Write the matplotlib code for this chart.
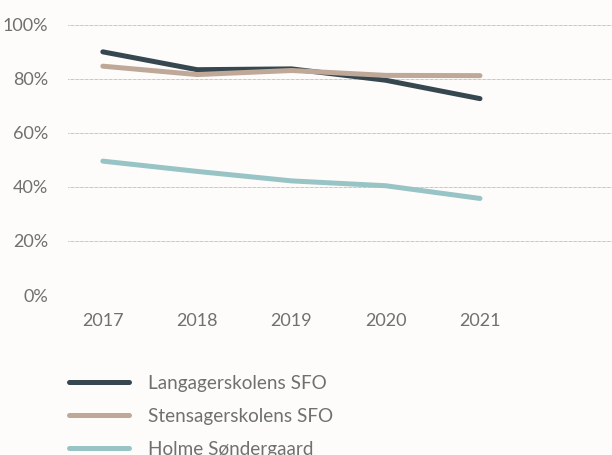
import matplotlib.pyplot as plt
from matplotlib.ticker import FuncFormatter

plt.rcParams["font.family"] = "Lato"

years = [2017, 2018, 2019, 2020, 2021]
langager = [89.9, 83.3, 83.6, 79.4, 72.6]
stensager = [84.6, 81.5, 83.0, 81.2, 81.1]
holme = [49.5, 45.7, 42.2, 40.4, 35.7]

names = ["Langagerskolens SFO", "Stensagerskolens SFO", "Holme Søndergaard"]
colors = ["#36474f", "#bfa898", "#98c4c5"]

bg = "#fdfcfa"
txt = "#707070"

fig = plt.figure(figsize=(6.12, 4.55), dpi=100, facecolor=bg)
ax = fig.add_axes([0.111, 0.3516, 0.889, 0.5945], facecolor=bg)

for vals, name, c in zip([langager, stensager, holme], names, colors):
    ax.plot(years, vals, color=c, lw=3.6, solid_capstyle="round", label=name)

ax.set_xlim(2016.63, 2022.4)
ax.set_ylim(0, 100)
ax.set_yticks([0, 20, 40, 60, 80, 100])
ax.set_xticks(years)
ax.yaxis.set_major_formatter(FuncFormatter(lambda v, p: f"{v:.0f}%"))
ax.grid(axis="y", color="#909090", linestyle=(0, (0.5, 0.8)), lw=0.7)
ax.set_axisbelow(True)
for s in ax.spines.values():
    s.set_visible(False)
ax.tick_params(length=0, colors=txt, labelsize=13)
ax.tick_params(axis="y", pad=14)
ax.tick_params(axis="x", pad=13)

fig.legend(loc="upper left", bbox_to_anchor=(0.1, 0.193), frameon=False,
           fontsize=13.6, handlelength=3.2, handletextpad=1.0,
           labelspacing=0.85, labelcolor=txt, borderaxespad=0)

fig.savefig("out.png", dpi=100, facecolor=bg)
